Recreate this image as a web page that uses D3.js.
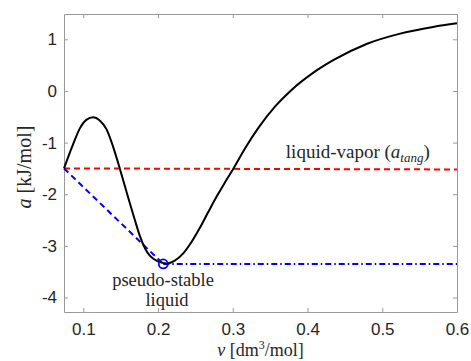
<!DOCTYPE html>
<html>
<head>
<meta charset="utf-8">
<script src="https://cdn.jsdelivr.net/npm/d3@7"></script>
<style>
  html, body { margin: 0; padding: 0; background: #fff; }
  svg { display: block; }
  .tick text { font-family: "Liberation Sans", Arial, sans-serif; font-size: 17px; fill: #262626; }
  .serif { font-family: "Liberation Serif", "Times New Roman", serif; fill: #262626; }
</style>
</head>
<body>
<div id="graph"></div>
<script>
// free energy curve a(v)
const vValues = [0.0742, 0.080, 0.0867, 0.0956, 0.104, 0.1134, 0.122, 0.131, 0.1385, 0.1447,
                 0.149, 0.156, 0.162, 0.169, 0.176, 0.183, 0.189, 0.200, 0.2117, 0.222,
                 0.234, 0.245, 0.256, 0.267, 0.279, 0.290, 0.301, 0.3165, 0.334, 0.357,
                 0.379, 0.406, 0.435, 0.479, 0.524, 0.568, 0.6];
const aValues = [-1.50, -1.27, -1.02, -0.72, -0.56, -0.51, -0.57, -0.74, -1.02, -1.30,
                 -1.51, -1.86, -2.16, -2.50, -2.82, -3.06, -3.19, -3.30, -3.34, -3.29,
                 -3.14, -2.92, -2.65, -2.35, -2.03, -1.76, -1.50, -1.11, -0.72, -0.295,
                 0.025, 0.335, 0.60, 0.91, 1.11, 1.24, 1.31];

// liquid-vapor tangent (red) and pseudo-stable construction (blue)
const tangentV = [0.0742, 0.6];
const tangentA = [-1.50, -1.52];
const pseudoV = [0.0742, 0.207];
const pseudoA = [-1.50, -3.35];
const flatV = [0.207, 0.6];
const flatA = [-3.35, -3.35];
const pointV = [0.207];
const pointA = [-3.35];

const xTicks = [0.1, 0.2, 0.3, 0.4, 0.5, 0.6];
const xTickLabels = ['0.1', '0.2', '0.3', '0.4', '0.5', '0.6'];
const yTicks = [-4, -3, -2, -1, 0, 1];
const yTickLabels = ['-4', '-3', '-2', '-1', '0', '1'];

const width = 471;
const height = 361;
const margin = { top: 14, right: 14, bottom: 49, left: 64 };
const innerW = width - margin.left - margin.right;
const innerH = height - margin.top - margin.bottom;

const svg = d3.select('#graph').append('svg')
    .attr('width', width)
    .attr('height', height);

const root = svg.append('g')
    .attr('transform', 'translate(' + margin.left + ',' + margin.top + ')');

const x = d3.scaleLinear().domain([0.0742, 0.6]).range([0, innerW]);
const y = d3.scaleLinear().domain([-4.28, 1.49]).range([innerH, 0]);

// axes, ticks pointing inwards, box on
const axisColor = '#9a9a9a';
function styleAxis(g) {
    g.select('.domain').attr('stroke', axisColor).attr('stroke-width', 1);
    g.selectAll('.tick line').attr('stroke', axisColor);
}

root.append('g')
    .attr('transform', 'translate(0,' + innerH + ')')
    .call(d3.axisBottom(x).tickValues(xTicks).tickSize(-4).tickSizeOuter(0).tickPadding(11)
        .tickFormat((d, i) => xTickLabels[i]))
    .call(styleAxis);

root.append('g')
    .call(d3.axisTop(x).tickValues(xTicks).tickSize(-4).tickSizeOuter(0).tickFormat(''))
    .call(styleAxis);

root.append('g')
    .call(d3.axisLeft(y).tickValues(yTicks).tickSize(-4).tickSizeOuter(0).tickPadding(7)
        .tickFormat((d, i) => yTickLabels[i]))
    .call(styleAxis);

root.append('g')
    .attr('transform', 'translate(' + innerW + ',0)')
    .call(d3.axisRight(y).tickValues(yTicks).tickSize(-4).tickSizeOuter(0).tickFormat(''))
    .call(styleAxis);

root.selectAll('.tick text').attr('fill', '#262626');

const plot = root.append('g');

const line = d3.line().x(d => x(d[0])).y(d => y(d[1]));

plot.append('path')
    .datum(d3.zip(tangentV, tangentA))
    .attr('fill', 'none')
    .attr('stroke', '#ff0000')
    .attr('stroke-width', 2)
    .attr('stroke-dasharray', '6,4')
    .attr('d', line);

plot.append('path')
    .datum(d3.zip(pseudoV, pseudoA))
    .attr('fill', 'none')
    .attr('stroke', '#0000ff')
    .attr('stroke-width', 2)
    .attr('stroke-dasharray', '6,4')
    .attr('d', line);

plot.append('path')
    .datum(d3.zip(flatV, flatA))
    .attr('fill', 'none')
    .attr('stroke', '#0000ff')
    .attr('stroke-width', 2)
    .attr('stroke-dasharray', '6,3,1.5,3')
    .attr('d', line);

const smooth = d3.line().x(d => x(d[0])).y(d => y(d[1])).curve(d3.curveMonotoneX);

plot.append('path')
    .datum(d3.zip(vValues, aValues))
    .attr('fill', 'none')
    .attr('stroke', '#000')
    .attr('stroke-width', 2)
    .attr('d', smooth);

plot.selectAll('circle')
    .data(d3.zip(pointV, pointA))
    .enter().append('circle')
        .attr('cx', d => x(d[0]))
        .attr('cy', d => y(d[1]))
        .attr('r', 4.5)
        .attr('fill', 'none')
        .attr('stroke', '#0000ff')
        .attr('stroke-width', 1.8);

// annotations
const tangLabel = root.append('text')
    .attr('class', 'serif')
    .attr('x', x(0.371))
    .attr('y', 144)
    .style('font-size', '19px');
tangLabel.append('tspan').text('liquid-vapor (');
tangLabel.append('tspan').style('font-style', 'italic').text('a');
tangLabel.append('tspan').style('font-style', 'italic').style('font-size', '13px')
    .attr('dy', 4).text('tang');
tangLabel.append('tspan').attr('dy', -4).text(')');

root.append('text')
    .attr('class', 'serif')
    .attr('text-anchor', 'middle')
    .attr('x', 163 - margin.left)
    .attr('y', 286 - margin.top)
    .style('font-size', '18.5px')
    .text('pseudo-stable');

root.append('text')
    .attr('class', 'serif')
    .attr('text-anchor', 'middle')
    .attr('x', 167 - margin.left)
    .attr('y', 306 - margin.top)
    .style('font-size', '18.5px')
    .text('liquid');

// axis labels
const xLabel = svg.append('text')
    .attr('class', 'serif')
    .attr('x', margin.left + innerW / 2)
    .attr('y', 356)
    .attr('text-anchor', 'middle')
    .style('font-size', '18px');
xLabel.append('tspan').style('font-style', 'italic').text('v');
xLabel.append('tspan').text(' [dm');
xLabel.append('tspan').style('font-size', '12px').attr('dy', -7).text('3');
xLabel.append('tspan').attr('dy', 7).text('/mol]');

const yLabel = svg.append('text')
    .attr('class', 'serif')
    .attr('transform', 'translate(31,' + (margin.top + innerH / 2 + 4) + ') rotate(-90)')
    .attr('text-anchor', 'middle')
    .style('font-size', '20px');
yLabel.append('tspan').style('font-style', 'italic').text('a');
yLabel.append('tspan').text(' [kJ/mol]');
</script>
</body>
</html>
